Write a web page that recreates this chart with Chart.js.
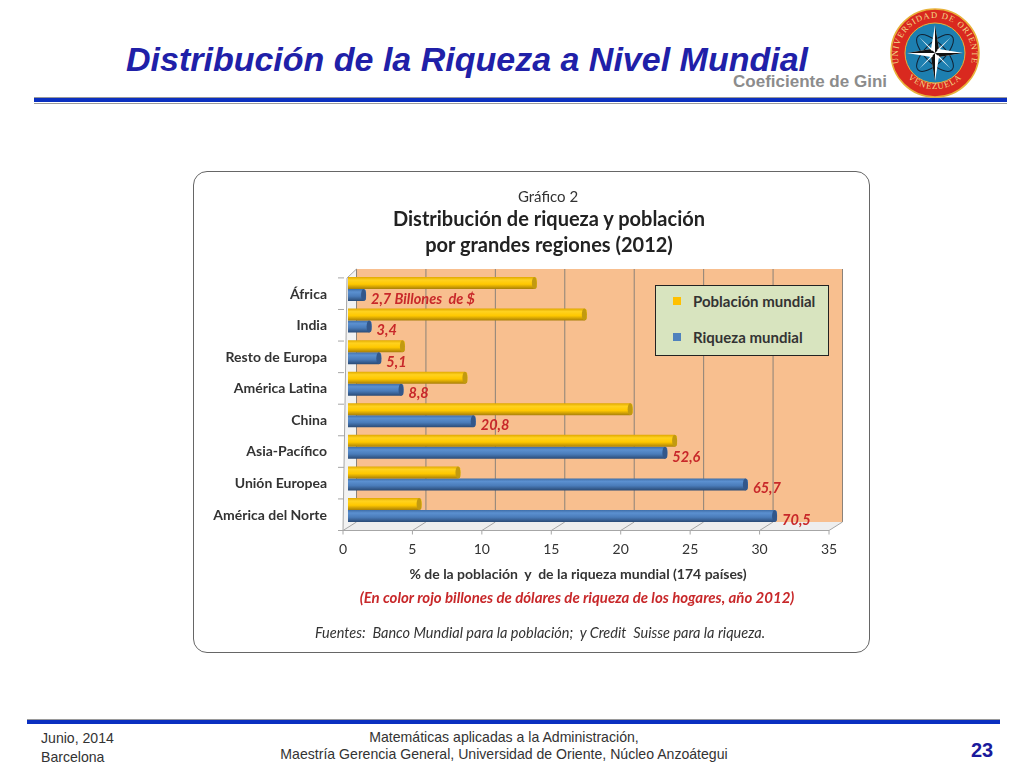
<!DOCTYPE html>
<html>
<head>
<meta charset="utf-8">
<script src="https://cdn.jsdelivr.net/npm/chart.js@4/dist/chart.umd.min.js"></script>
<style>
  html, body { margin: 0; padding: 0; background: #fff; }
  body { position: relative; width: 1024px; height: 768px; overflow: hidden; font-family: "Liberation Sans", sans-serif; }
  .abs { position: absolute; white-space: nowrap; }
  #slideTitle { left: 126px; top: 40px; font-size: 34px; font-weight: bold; font-style: italic; color: #2020a8; }
  #slideSub { right: 137px; top: 72px; font-size: 17px; font-weight: bold; color: #8c8c8c; }
  .rule { position: absolute; background: #0a2fc0; }
  .ruleThin { position: absolute; background: #9a9a9a; }
  #card { position: absolute; left: 193px; top: 171px; width: 675px; height: 480px; border: 1.5px solid #666; border-radius: 14px; background: #fff; }
  #chartBox { position: absolute; left: 194px; top: 172px; width: 676px; height: 480px; }
  .inner { font-family: Lato, sans-serif; transform: translateX(-50%); }
  #legendBox { position: absolute; left: 655px; top: 285px; width: 172px; height: 69px; border: 1px solid #222; background: #d8e4bf; font-family: Lato, sans-serif; font-weight: bold; font-size: 15px; color: #333; }
  #legendBox div { position: absolute; left: 37px; white-space: nowrap; }
  #legendBox i { position: absolute; left: -20px; top: 5px; width: 8px; height: 8px; }
  .foot { position: absolute; font-size: 14.1px; color: #333; white-space: nowrap; }
</style>
</head>
<body>
<div class="abs" id="slideTitle">Distribución de la Riqueza a Nivel Mundial</div>
<div class="abs" id="slideSub">Coeficiente de Gini</div>
<div class="ruleThin" style="left:34px;top:97px;width:973px;height:1px"></div>
<div class="rule" style="left:34px;top:98px;width:973px;height:4px"></div>
<div class="ruleThin" style="left:34px;top:103px;width:973px;height:1px"></div>

<svg style="position:absolute;left:885px;top:3px" width="100" height="100" viewBox="0 0 100 100">
  <circle cx="50" cy="50" r="44" fill="#d9291f" stroke="#e8b23a" stroke-width="1.5"/>
  <circle cx="50" cy="50" r="30" fill="#1d7fb0" stroke="#e8b23a" stroke-width="1"/>
  <ellipse cx="50" cy="50" rx="24" ry="10" fill="none" stroke="#123" stroke-width="1" transform="rotate(45 50 50)"/>
  <ellipse cx="50" cy="50" rx="24" ry="10" fill="none" stroke="#123" stroke-width="1" transform="rotate(-45 50 50)"/>
  <polygon points="50,22 54,46 78,50 54,54 50,78 46,54 22,50 46,46" fill="#fff"/>
  <polygon points="50,22 54,46 50,50" fill="#111"/><polygon points="78,50 54,54 50,50" fill="#111"/>
  <polygon points="50,78 46,54 50,50" fill="#111"/><polygon points="22,50 46,46 50,50" fill="#111"/>
  <polygon points="34,34 48,47 47,48" fill="#fff"/><polygon points="66,34 52,47 53,48" fill="#fff"/>
  <polygon points="34,66 48,53 47,52" fill="#fff"/><polygon points="66,66 52,53 53,52" fill="#fff"/>
  <defs>
    <path id="arcTop" d="M 13.5 58 A 37 37 0 1 1 86.5 58"/>
    <path id="arcBot" d="M 17 67 A 38 38 0 0 0 83 67"/>
  </defs>
  <text font-family="Liberation Serif" font-size="8.6" fill="#f3d98a" letter-spacing="1"><textPath href="#arcTop" startOffset="50%" text-anchor="middle">UNIVERSIDAD DE ORIENTE</textPath></text>
  <text font-family="Liberation Serif" font-size="8.6" fill="#f3d98a" letter-spacing="1"><textPath href="#arcBot" startOffset="50%" text-anchor="middle">VENEZUELA</textPath></text>
</svg>

<div id="card"></div>
<div id="chartBox"><canvas id="chart" width="676" height="480"></canvas></div>

<div class="abs inner" style="left:548px;top:187px;font-size:15px;color:#333">Gráfico 2</div>
<div class="abs inner" style="left:549px;top:206px;font-size:20px;font-weight:bold;color:#222">Distribución de riqueza y población</div>
<div class="abs inner" style="left:549px;top:232px;font-size:20px;font-weight:bold;color:#222">por grandes regiones (2012)</div>
<div class="abs inner" style="left:578px;top:565px;font-size:14px;font-weight:bold;color:#333">% de la población&nbsp; y&nbsp; de la riqueza mundial (174 países)</div>
<div class="abs inner" style="left:577px;top:588px;font-size:15px;font-weight:bold;font-style:italic;color:#c8282a">(En color rojo billones de dólares de riqueza de los hogares, año 2012)</div>
<div class="abs inner" style="left:540px;top:624px;font-size:14.5px;font-style:italic;color:#333">Fuentes:&nbsp; Banco Mundial para la población;&nbsp; y Credit&nbsp; Suisse para la riqueza.</div>

<div id="legendBox"></div>

<div class="ruleThin" style="left:27px;top:719px;width:973px;height:1px"></div>
<div class="rule" style="left:27px;top:720px;width:973px;height:4px"></div>
<div class="foot" style="left:41px;top:730px">Junio, 2014</div>
<div class="foot" style="left:41px;top:749px">Barcelona</div>
<div class="foot" style="left:504px;top:729px;transform:translateX(-50%)">Matemáticas aplicadas a la Administración,</div>
<div class="foot" style="left:504px;top:746px;transform:translateX(-50%)">Maestría Gerencia General, Universidad de Oriente, Núcleo Anzoátegui</div>
<div class="abs" style="left:971px;top:739px;font-size:20px;font-weight:bold;color:#1a1a9c">23</div>

<script>
const regions = ['África', 'India', 'Resto de Europa', 'América Latina', 'China', 'Asia-Pacífico', 'Unión Europea', 'América del Norte'];
const poblacion = [13.6, 17.2, 4.1, 8.6, 20.5, 23.7, 8.1, 5.3];
const riqueza = [1.3, 1.7, 2.4, 4.0, 9.2, 23.0, 28.8, 30.9];
const billones = ['2,7 Billones  de $', '3,4', '5,1', '8,8', '20,8', '52,6', '65,7', '70,5'];
const seriesNames = ['Población mundial', 'Riqueza mundial'];
const seriesColors = ['#ffc000', '#4f81bd'];
const barShades = [
    ['#e0a800', '#ffd21f', '#ffc800', '#a87f08'],
    ['#3f6ea8', '#5b90d0', '#4a7cba', '#2a4a75']
];
const capColors = ['#c29a10', '#33578a'];

// cylinder look: each bar gets its own vertical gradient
function barFill(context) {
    const { chart, datasetIndex, dataIndex } = context;
    const y = chart.scales.y;
    if (!y || dataIndex === undefined) return seriesColors[datasetIndex];
    const center = y.getPixelForValue(dataIndex);
    const half = (y.getPixelForValue(1) - y.getPixelForValue(0)) * 0.38;
    if (!isFinite(center) || !isFinite(half)) return seriesColors[datasetIndex];
    const top = datasetIndex === 0 ? center - half : center;
    const g = chart.ctx.createLinearGradient(0, top, 0, top + half);
    const shades = barShades[datasetIndex];
    g.addColorStop(0, shades[0]);
    g.addColorStop(0.25, shades[1]);
    g.addColorStop(0.6, shades[2]);
    g.addColorStop(1, shades[3]);
    return g;
}

// back wall, floor and ticks of the fake 3D box
const box3d = {
    id: 'box3d',
    beforeDatasetsDraw(chart) {
        const { ctx, scales: { x, y } } = chart;
        const backX = 8.5, frontX = -5;
        const wallTop = 269 - 172, wallBottom = 522 - 172, floorFront = 530.5 - 172;
        const x0 = x.getPixelForValue(0), x35 = x.getPixelForValue(35);
        ctx.save();
        // side wall
        ctx.fillStyle = '#f2f2f2';
        ctx.beginPath();
        ctx.moveTo(x0 + frontX, floorFront);
        ctx.lineTo(x0 + frontX + 4, 278 - 172);
        ctx.lineTo(x0 + backX, wallTop);
        ctx.lineTo(x0 + backX, wallBottom);
        ctx.closePath();
        ctx.fill();
        ctx.fillStyle = '#f8bf8f';
        ctx.fillRect(x0 + backX, wallTop, x35 - x0, wallBottom - wallTop);
        ctx.fillStyle = '#eeeeee';
        ctx.beginPath();
        ctx.moveTo(x0 + frontX, floorFront);
        ctx.lineTo(x0 + backX, wallBottom);
        ctx.lineTo(x35 + backX, wallBottom);
        ctx.lineTo(x35 + frontX, floorFront);
        ctx.closePath();
        ctx.fill();
        ctx.lineWidth = 1;
        x.ticks.forEach(t => {
            const px = x.getPixelForValue(t.value);
            ctx.strokeStyle = '#8b8279';
            ctx.beginPath();
            ctx.moveTo(px + backX, wallTop);
            ctx.lineTo(px + backX, wallBottom);
            ctx.stroke();
            ctx.strokeStyle = '#a6a6a6';
            ctx.beginPath();
            ctx.moveTo(px + backX, wallBottom);
            ctx.lineTo(px + frontX, floorFront);
            ctx.lineTo(px + frontX, floorFront + 4);
            ctx.stroke();
        });
        ctx.strokeStyle = '#a6a6a6';
        ctx.beginPath();
        ctx.moveTo(x0 + frontX, floorFront);
        ctx.lineTo(x35 + frontX, floorFront);
        ctx.moveTo(x0 + frontX, floorFront);
        ctx.lineTo(x0 + frontX + 4, 278 - 172);
        ctx.lineTo(x0 + backX, wallTop);
        ctx.stroke();
        // category ticks
        const pitch = y.getPixelForValue(1) - y.getPixelForValue(0);
        for (let i = 0; i <= regions.length; i++) {
            const py = floorFront - (regions.length - i) * pitch;
            ctx.beginPath();
            ctx.moveTo(x0 + frontX - 5, py);
            ctx.lineTo(x0 + frontX + 1, py);
            ctx.stroke();
        }
        ctx.restore();
    },
    afterDatasetsDraw(chart) {
        const { ctx } = chart;
        const cap = 2.5;
        ctx.save();
        [0, 1].forEach(d => {
            chart.getDatasetMeta(d).data.forEach(bar => {
                ctx.fillStyle = capColors[d];
                ctx.beginPath();
                ctx.ellipse(bar.x - cap, bar.y, cap, bar.height / 2, 0, 0, Math.PI * 2);
                ctx.fill();
            });
        });
        ctx.font = 'italic bold 14.5px Lato, sans-serif';
        ctx.fillStyle = '#c8282a';
        ctx.textBaseline = 'middle';
        chart.getDatasetMeta(1).data.forEach((bar, i) => {
            ctx.fillText(billones[i], bar.x + 5, bar.y + 4);
        });
        ctx.restore();
    }
};

new Chart(document.getElementById('chart').getContext('2d'), {
    type: 'bar',
    data: {
        labels: regions,
        datasets: [
            { label: seriesNames[0], data: poblacion, backgroundColor: barFill, borderRadius: { topRight: 3, bottomRight: 3 }, borderSkipped: false, barPercentage: 1, categoryPercentage: 0.76 },
            { label: seriesNames[1], data: riqueza, backgroundColor: barFill, borderRadius: { topRight: 3, bottomRight: 3 }, borderSkipped: false, barPercentage: 1, categoryPercentage: 0.76 }
        ]
    },
    options: {
        indexAxis: 'y',
        responsive: false,
        animation: false,
        layout: { padding: { top: 101.2, right: 36, left: 0, bottom: 0 } },
        plugins: { legend: { display: false }, tooltip: { enabled: false } },
        scales: {
            x: {
                min: 0,
                max: 35,
                grid: { display: false, drawTicks: false },
                border: { display: false },
                afterFit: s => { s.height = 126.2; },
                ticks: { stepSize: 5, padding: 15, labelOffset: -5, maxRotation: 0, color: '#333', font: { family: 'Lato', size: 14 } }
            },
            y: {
                grid: { display: false, drawTicks: false },
                border: { display: false },
                afterFit: s => { s.width = 154; },
                ticks: { padding: 21, labelOffset: 5, autoSkip: false, color: '#333', font: { family: 'Lato', size: 14, weight: 'bold' } }
            }
        }
    },
    plugins: [box3d]
});

// legend box
const legendBox = document.getElementById('legendBox');
seriesNames.forEach((name, i) => {
    const row = document.createElement('div');
    row.style.top = (i === 0 ? 6 : 42) + 'px';
    row.textContent = name;
    const mark = document.createElement('i');
    mark.style.background = seriesColors[i];
    row.appendChild(mark);
    legendBox.appendChild(row);
});
</script>
</body>
</html>
